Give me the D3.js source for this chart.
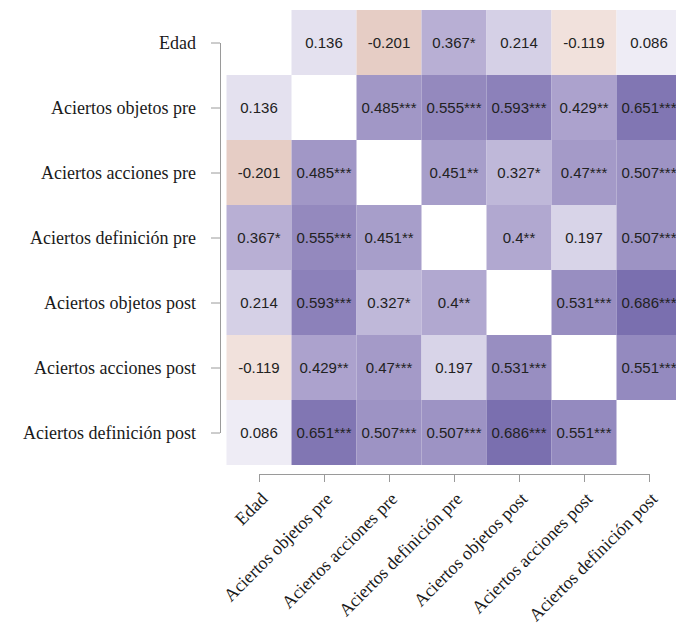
<!DOCTYPE html>
<html>
<head>
<meta charset="utf-8">
<script src="https://cdn.jsdelivr.net/npm/d3@7"></script>
<style>
  body { margin: 0; background: #fff; }
  .axis path, .axis line { stroke: #9a9a9a; }
  .cell-label { font-family: "Liberation Sans", Arial, sans-serif; font-size: 15px; fill: #222; }
</style>
</head>
<body>
<svg id="chart" width="676" height="623"></svg>
<script>
// variable names (rows top to bottom, columns left to right)
const variables = [
  "Edad",
  "Aciertos objetos pre",
  "Aciertos acciones pre",
  "Aciertos definición pre",
  "Aciertos objetos post",
  "Aciertos acciones post",
  "Aciertos definición post"
];
// x labels (the original has a double space in one of them)
const xLabels = [
  "Edad",
  "Aciertos objetos pre",
  "Aciertos acciones pre",
  "Aciertos definición pre",
  "Aciertos objetos post",
  "Aciertos acciones  post",
  "Aciertos definición post"
];

// correlation matrix, diagonal left blank
const corr = [
  [null, 0.136, -0.201, 0.367, 0.214, -0.119, 0.086],
  [0.136, null, 0.485, 0.555, 0.593, 0.429, 0.651],
  [-0.201, 0.485, null, 0.451, 0.327, 0.47, 0.507],
  [0.367, 0.555, 0.451, null, 0.4, 0.197, 0.507],
  [0.214, 0.593, 0.327, 0.4, null, 0.531, 0.686],
  [-0.119, 0.429, 0.47, 0.197, 0.531, null, 0.551],
  [0.086, 0.651, 0.507, 0.507, 0.686, 0.551, null]
];

// significance stars
const stars = [
  ["", "", "", "*", "", "", ""],
  ["", "", "***", "***", "***", "**", "***"],
  ["", "***", "", "**", "*", "***", "***"],
  ["*", "***", "**", "", "**", "", "***"],
  ["", "***", "*", "**", "", "***", "***"],
  ["", "**", "***", "", "***", "", "***"],
  ["", "***", "***", "***", "***", "***", ""]
];

let svg = d3.select("#chart");

// cells
let x = d3.scaleBand().domain(variables).range([226.5, 681.5]);
let y = d3.scaleBand().domain(variables).range([10, 465]);

let color = d3.scaleLinear()
  .domain([-1, 0, 1])
  .range([d3.lab(22, 41, 36), d3.lab(100, 0, 0), d3.lab(27, 23, -48)])
  .interpolate(d3.interpolateLab);

// flatten matrix into cells
let cells = [];
for (let i = 0; i < variables.length; i++) {
  for (let j = 0; j < variables.length; j++) {
    if (corr[i][j] !== null) {
      cells.push({ row: variables[i], col: variables[j], value: corr[i][j], star: stars[i][j] });
    }
  }
}

let g = svg.append("g");
g.selectAll("rect")
  .data(cells)
  .enter()
  .append("rect")
  .attr("x", d => x(d.col))
  .attr("y", d => y(d.row))
  .attr("width", x.bandwidth())
  .attr("height", y.bandwidth())
  .attr("fill", d => color(d.value));

g.selectAll("text")
  .data(cells)
  .enter()
  .append("text")
  .attr("class", "cell-label")
  .attr("x", d => x(d.col) + x.bandwidth() / 2)
  .attr("y", d => y(d.row) + y.bandwidth() / 2)
  .attr("dy", "0.35em")
  .attr("text-anchor", "middle")
  .text(d => String(d.value) + d.star);

// axes are offset from the tiles and span only first..last tick
let xAxisScale = d3.scalePoint().domain(xLabels).range([259, 649]);
let yAxisScale = d3.scalePoint().domain(variables).range([42.5, 432.5]);

let yAxis = svg.append("g")
  .attr("class", "axis")
  .attr("transform", "translate(220,0)")
  .call(d3.axisLeft(yAxisScale).tickSize(9).tickSizeOuter(0).tickPadding(15));

let xAxis = svg.append("g")
  .attr("class", "axis")
  .attr("transform", "translate(0,474)")
  .call(d3.axisBottom(xAxisScale).tickSize(8).tickSizeOuter(0));

// serif tick labels like the original
svg.selectAll(".axis")
  .attr("font-family", "'Liberation Serif', 'Times New Roman', 'DejaVu Serif', serif")
  .attr("font-size", 18);
svg.selectAll(".axis .tick text").attr("fill", "#1a1a1a");

xAxis.selectAll(".tick text")
  .attr("text-anchor", "end")
  .attr("x", 0)
  .attr("y", 0)
  .attr("dy", 0)
  .attr("transform", "translate(9,26) rotate(-45)");

yAxis.selectAll(".tick text").attr("dy", "0.32em");
</script>
</body>
</html>
